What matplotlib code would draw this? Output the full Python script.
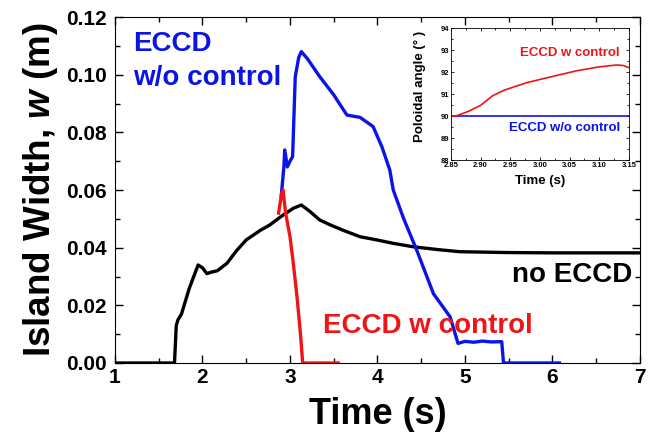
import matplotlib
matplotlib.use("Agg")
import matplotlib.pyplot as plt
from matplotlib.ticker import MultipleLocator, FormatStrFormatter

plt.rcParams['font.family'] = ['Liberation Sans', 'DejaVu Sans']
plt.rcParams['font.weight'] = 'bold'
plt.rcParams['mathtext.fontset'] = 'custom'
plt.rcParams['mathtext.it'] = 'Liberation Sans:italic:bold'
plt.rcParams['mathtext.rm'] = 'Liberation Sans:bold'

# ---- main data ----
t_no = [1.0, 1.68, 1.70, 1.72, 1.76, 1.85, 1.95, 2.00, 2.05, 2.10, 2.17, 2.28, 2.39, 2.50, 2.66, 2.77, 2.92, 3.04, 3.13, 3.23, 3.34, 3.46, 3.61, 3.80, 3.99, 4.18, 4.41, 4.70, 4.94, 5.50, 6.00, 7.0]
w_no = [0.0, 0.0, 0.013, 0.015, 0.017, 0.026, 0.034, 0.033, 0.031, 0.0315, 0.032, 0.0346, 0.039, 0.0427, 0.046, 0.0479, 0.0513, 0.0537, 0.0548, 0.0525, 0.0496, 0.0479, 0.046, 0.0438, 0.0427, 0.0415, 0.0403, 0.0393, 0.0386, 0.0383, 0.0382, 0.0382]

t_wo = [2.90, 2.93, 2.94, 2.97, 3.00, 3.03, 3.06, 3.10, 3.13, 3.20, 3.34, 3.50, 3.65, 3.80, 3.95, 4.05, 4.14, 4.18, 4.30, 4.45, 4.64, 4.83, 4.92, 5.00, 5.10, 5.20, 5.30, 5.42, 5.44, 5.60, 6.08]
w_wo = [0.058, 0.068, 0.0739, 0.068, 0.070, 0.0716, 0.0993, 0.106, 0.108, 0.1055, 0.0993, 0.093, 0.086, 0.0852, 0.082, 0.075, 0.067, 0.060, 0.050, 0.039, 0.024, 0.016, 0.0068, 0.0075, 0.0072, 0.0076, 0.0073, 0.0074, 0.0, 0.0, 0.0]

t_w = [2.87, 2.90, 2.92, 2.95, 3.00, 3.04, 3.08, 3.12, 3.145, 3.20, 3.55]
w_w = [0.052, 0.058, 0.060, 0.052, 0.0438, 0.034, 0.023, 0.010, 0.0, 0.0, 0.0]

# ---- inset data ----
ti = [2.85, 2.858, 2.88, 2.90, 2.92, 2.94, 2.978, 3.018, 3.062, 3.101, 3.129, 3.14, 3.15]
ang_w = [90.0, 90.0, 90.22, 90.49, 90.92, 91.18, 91.52, 91.78, 92.06, 92.24, 92.32, 92.30, 92.2]
ti_wo = [2.85, 3.15]
ang_wo = [90.0, 90.0]

BLUE = '#0a14e6'
RED = '#f01414'

fig = plt.figure(figsize=(6.56, 4.34), dpi=100)
ax = fig.add_axes([0.1753, 0.1636, 0.8003, 0.7972])
ax.plot(t_no, w_no, color='black', lw=2.4, zorder=2)
ax.plot(t_wo, w_wo, color=BLUE, lw=2.4, zorder=3)
ax.plot(t_w, w_w, color=RED, lw=2.4, zorder=4)
ax.set_xlim(1, 7)
ax.set_ylim(0, 0.12)
ax.xaxis.set_major_locator(MultipleLocator(1))
ax.xaxis.set_minor_locator(MultipleLocator(0.5))
ax.yaxis.set_major_locator(MultipleLocator(0.02))
ax.yaxis.set_minor_locator(MultipleLocator(0.01))
ax.yaxis.set_major_formatter(FormatStrFormatter('%.2f'))
ax.tick_params(which='both', direction='in', top=True, right=True, labelsize=15)
ax.tick_params(axis='y', pad=6)
ax.tick_params(which='major', length=6, width=1)
ax.tick_params(which='minor', length=3.5, width=1)
ax.set_xlabel('Time (s)', fontsize=26, fontweight='bold', labelpad=7)
ax.set_ylabel('Island Width, $w$ (m)', fontsize=26.5, fontweight='bold', labelpad=4)

ax.text(1.206, 0.1082, 'ECCD', color=BLUE, fontsize=20, fontweight='bold', va='baseline', ha='left')
ax.text(1.206, 0.0964, 'w/o control', color=BLUE, fontsize=20, fontweight='bold', va='baseline', ha='left')
ax.text(6.91, 0.0281, 'no ECCD', color='black', fontsize=20, fontweight='bold', va='baseline', ha='right')
ax.text(3.38, 0.0104, 'ECCD w control', color=RED, fontsize=20, fontweight='bold', va='baseline', ha='left')

# ---- inset ----
ins = fig.add_axes([0.6875, 0.6313, 0.2713, 0.304])
ins.plot(ti_wo, ang_wo, color=BLUE, lw=1.2)
ins.plot(ti, ang_w, color=RED, lw=1.2)
ins.set_xlim(2.85, 3.15)
ins.set_ylim(88, 94)
ins.xaxis.set_major_locator(MultipleLocator(0.05))
ins.xaxis.set_minor_locator(MultipleLocator(0.025))
ins.yaxis.set_major_locator(MultipleLocator(1))
ins.yaxis.set_minor_locator(MultipleLocator(0.5))
ins.xaxis.set_major_formatter(FormatStrFormatter('%.2f'))
ins.tick_params(which='both', direction='in', top=True, right=True, labelsize=5.5, pad=1.5)
ins.tick_params(which='major', length=2.5, width=0.6)
ins.tick_params(which='minor', length=1.5, width=0.6)
for s in ins.spines.values():
    s.set_linewidth(0.6)
ins.set_xlabel('Time (s)', fontsize=9.5, fontweight='bold', labelpad=4)
ins.set_ylabel('Poloidal angle (° )', fontsize=9.5, fontweight='bold')
ins.yaxis.set_label_coords(-0.14, 0.56)
ins.text(3.135, 92.86, 'ECCD w control', color=RED, fontsize=9.5, fontweight='bold', ha='right', va='center')
ins.text(3.135, 89.45, 'ECCD w/o control', color=BLUE, fontsize=9.5, fontweight='bold', ha='right', va='center')

fig.savefig('out.png', dpi=100)
